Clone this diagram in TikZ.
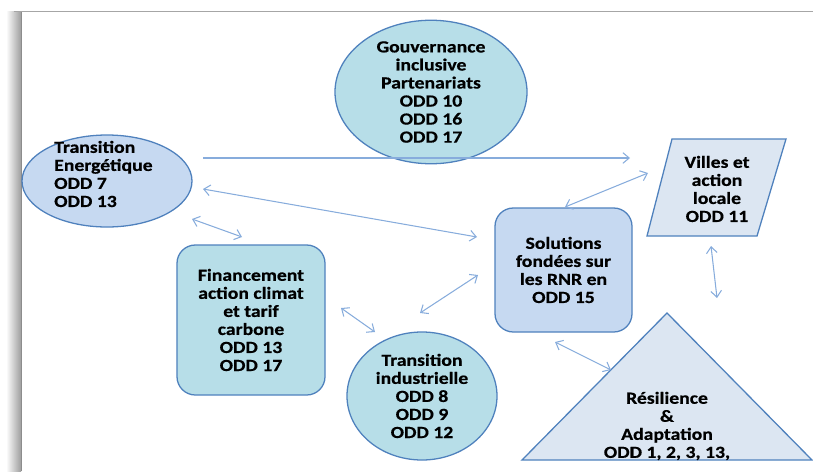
\documentclass[tikz,border=0pt]{standalone}
\usepackage{fontspec}
\usepackage{tikz}
\usetikzlibrary{arrows.meta,shapes.geometric}
\newfontfamily\slidefont{Carlito}[FakeStretch=1.16, FakeBold=0.6]
\newcommand\oddfont{\slidefont\bfseries\fontsize{14.5pt}{15.4pt}\selectfont}
\definecolor{EdgeBlue}{RGB}{79,129,189}
\definecolor{FillCyan}{RGB}{183,222,232}
\definecolor{FillBlue}{RGB}{198,217,241}
\definecolor{FillPale}{RGB}{220,230,242}
\definecolor{LinkBlue}{RGB}{135,172,220}
\tikzset{
	>={Straight Barb[length=1.9mm, width=3.2mm]},
	shapebox/.style={draw=EdgeBlue, line width=1.1pt},
	cyanoval/.style={shapebox, ellipse, fill=FillCyan, inner sep=0pt},
	blueoval/.style={shapebox, ellipse, fill=FillBlue, inner sep=0pt},
	roundbox/.style={shapebox, rounded corners=0.55cm, inner sep=0pt},
	paleshape/.style={shapebox, fill=FillPale},
	label/.style={font=\oddfont, text=black, align=center, inner sep=0pt},
	link/.style={LinkBlue, line width=0.9pt},
}

\begin{document}
\begin{tikzpicture}[x=0.03cm, y=-0.03cm]
		\useasboundingbox (0,0) rectangle (813,471);
		
		% slide edge and shadow
		\shade[left color=white, right color=black!38] (6,11) rectangle (21,471);
		\draw[black!45, line width=0.6pt] (21,11) -- (21,471);
		\draw[black!35, line width=0.6pt] (14,11) -- (813,11);
		
		% ovals
		\node[cyanoval, minimum width=5.76cm, minimum height=3.84cm, label] (gov) at (431,92)
		{Gouvernance\\inclusive\\Partenariats\\ODD 10\\ODD 16\\ODD 17};
		\node[blueoval, minimum width=5.10cm, minimum height=2.76cm] (te) at (107,181) {};
		\node[label, align=left, anchor=west] (tetxt) at (54,174)
		{Transition\\Energ\'etique\\ODD 7\\ODD 13};
		\node[cyanoval, minimum width=4.50cm, minimum height=3.84cm, label] (ind) at (422,396)
		{Transition\\industrielle\\ODD 8\\ODD 9\\ODD 12};
		
		% boxes
		\node[roundbox, fill=FillBlue, minimum width=4.11cm, minimum height=3.72cm, label] (sol) at (563.5,270)
		{Solutions\\fond\'ees sur\\les RNR en\\ODD 15};
		\node[roundbox, fill=FillCyan, minimum width=4.44cm, minimum height=4.50cm, label] (fin) at (251,320)
		{Financement\\action climat\\et tarif\\carbone\\ODD 13\\ODD 17};
		
		% parallelogram and triangle
		\draw[paleshape] (672,139) -- (786,139) -- (757,236) -- (647,236) -- cycle;
		\node[label] (vil) at (717,189) {Villes et\\action\\locale\\ODD 11};
		\draw[paleshape] (667,313) -- (812,460) -- (522,460) -- cycle;
		\node[label] (res) at (667,426) {R\'esilience\\\&\\Adaptation\\ODD 1, 2, 3, 13,};
		
		% arrow ends
		\coordinate (teA) at (203,158);
		\coordinate (vilA) at (630,158);
		\coordinate (teB) at (203,189);
		\coordinate (solB) at (477,237);
		\coordinate (teC) at (192,219);
		\coordinate (finC) at (242,237);
		\coordinate (solD) at (565,207);
		\coordinate (vilD) at (648,173);
		\coordinate (finE) at (341,308);
		\coordinate (indE) at (375,332);
		\coordinate (indF) at (420,313);
		\coordinate (solF) at (478,275);
		\coordinate (vilG) at (711,246);
		\coordinate (resG) at (717,298);
		\coordinate (solH) at (555,342);
		\coordinate (resH) at (611,370);
		
		% links
		\draw[link, ->] (teA) -- (vilA);
		\draw[link, <->] (teB) -- (solB);
		\draw[link, <->] (teC) -- (finC);
		\draw[link, <->] (solD) -- (vilD);
		\draw[link, <->] (finE) -- (indE);
		\draw[link, <->] (indF) -- (solF);
		\draw[link, <->] (vilG) -- (resG);
		\draw[link, <->] (solH) -- (resH);
	\end{tikzpicture}
\end{document}
